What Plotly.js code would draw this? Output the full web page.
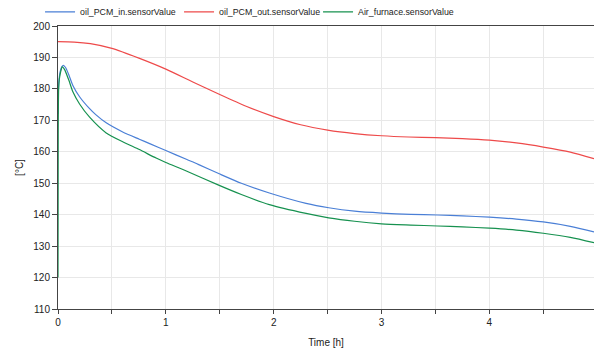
<!DOCTYPE html>
<html>
<head>
<meta charset="utf-8">
<script src="https://cdn.plot.ly/plotly-3.0.1.min.js"></script>
<style>html,body{margin:0;padding:0;background:#fff;}#chart{width:594px;height:349px;}</style>
</head>
<body>
<div id="chart"></div>
<script>
// Series names
const seriesNames = ["oil_PCM_in.sensorValue", "oil_PCM_out.sensorValue", "Air_furnace.sensorValue"];

// oil_PCM_in (blue)
const inTime = [0, 0.004, 0.01, 0.02, 0.035, 0.05, 0.07, 0.1, 0.139, 0.2, 0.293, 0.35, 0.447, 0.6, 0.754, 0.85, 1.0, 1.19, 1.3, 1.495, 1.7, 1.96, 2.3, 2.51, 2.75, 3.0, 3.27, 3.52, 3.75, 4.0, 4.25, 4.5, 4.75, 4.97];
const inTemp = [172, 180, 183, 185.5, 187, 187.5, 186.8, 184.5, 181, 177.5, 173.7, 171.8, 169.2, 166.3, 164.0, 162.6, 160.4, 157.6, 156.0, 153.0, 150.0, 146.9, 143.6, 142.2, 141.1, 140.5, 140.1, 139.9, 139.6, 139.2, 138.6, 137.7, 136.3, 134.5];

// oil_PCM_out (red)
const outTime = [0, 0.15, 0.3, 0.5, 0.75, 1.0, 1.25, 1.5, 1.75, 2.0, 2.25, 2.5, 2.75, 3.0, 3.25, 3.5, 3.75, 4.0, 4.25, 4.5, 4.75, 4.97];
const outTemp = [195, 194.9, 194.4, 192.9, 189.8, 186.3, 182.2, 178.2, 174.4, 171.2, 168.6, 166.9, 165.8, 165.1, 164.7, 164.5, 164.2, 163.7, 162.8, 161.5, 159.9, 157.8];

// Air_furnace (green)
const airTime = [0, 0.002, 0.006, 0.012, 0.025, 0.04, 0.06, 0.1, 0.139, 0.2, 0.293, 0.447, 0.6, 0.754, 0.91, 1.0, 1.19, 1.495, 1.7, 1.96, 2.3, 2.51, 2.75, 3.0, 3.27, 3.52, 3.75, 4.0, 4.25, 4.5, 4.75, 4.97];
const airTemp = [120, 167, 180, 183, 185.5, 187, 186.2, 182.8, 179, 175.2, 171, 166, 163.2, 160.7, 158.0, 156.6, 153.9, 149.3, 146.4, 143.2, 140.4, 139.0, 137.9, 137.1, 136.7, 136.4, 136.1, 135.7, 135.1, 134.1, 132.8, 131.1];

// Axis ticks
const xTickVals = [0, 0.5, 1, 1.5, 2, 2.5, 3, 3.5, 4, 4.5];
const xTickText = ["0", "", "1", "", "2", "", "3", "", "4", ""];
const yTickVals = [110, 120, 130, 140, 150, 160, 170, 180, 190, 200];

const font = "Liberation Sans, Arial, sans-serif";
const traces = [
  {x: inTime, y: inTemp, name: seriesNames[0], mode: "lines", line: {color: "#4a7fd6", width: 1.2, shape: "spline", smoothing: 0.7}},
  {x: outTime, y: outTemp, name: seriesNames[1], mode: "lines", line: {color: "#ee4a4a", width: 1.2, shape: "spline", smoothing: 0.7}},
  {x: airTime, y: airTemp, name: seriesNames[2], mode: "lines", line: {color: "#16914f", width: 1.2, shape: "spline", smoothing: 0.7}}
];
const layout = {
  width: 594, height: 349,
  margin: {l: 58, r: 0, t: 26, b: 40, autoexpand: false},
  paper_bgcolor: "#fff", plot_bgcolor: "#fff",
  font: {family: font, size: 10, color: "#222"},
  showlegend: true,
  legend: {orientation: "h", x: -0.0335, xanchor: "left", y: 1.05, yanchor: "middle",
           font: {family: font, size: 8.8, color: "#222"}, itemwidth: 30, entrywidth: 94,
           bgcolor: "rgba(0,0,0,0)"},
  xaxis: {
    range: [0, 4.97], tickvals: xTickVals, ticktext: xTickText,
    showgrid: true, gridcolor: "#e8e8e8", gridwidth: 1,
    showline: true, linecolor: "#444", linewidth: 1, mirror: true,
    ticks: "outside", ticklen: 4, tickcolor: "#444",
    zeroline: false,
    title: {text: "Time [h]", font: {family: font, size: 10, color: "#222"}, standoff: 11}
  },
  yaxis: {
    range: [110, 200], tickvals: yTickVals,
    showgrid: true, gridcolor: "#e8e8e8", gridwidth: 1,
    showline: true, linecolor: "#444", linewidth: 1,
    ticks: "outside", ticklen: 5, tickcolor: "#444",
    zeroline: false,
    title: {text: "[°C]", font: {family: font, size: 10, color: "#222"}, standoff: 7}
  }
};
Plotly.newPlot("chart", traces, layout, {staticPlot: true, displayModeBar: false});
</script>
</body>
</html>
